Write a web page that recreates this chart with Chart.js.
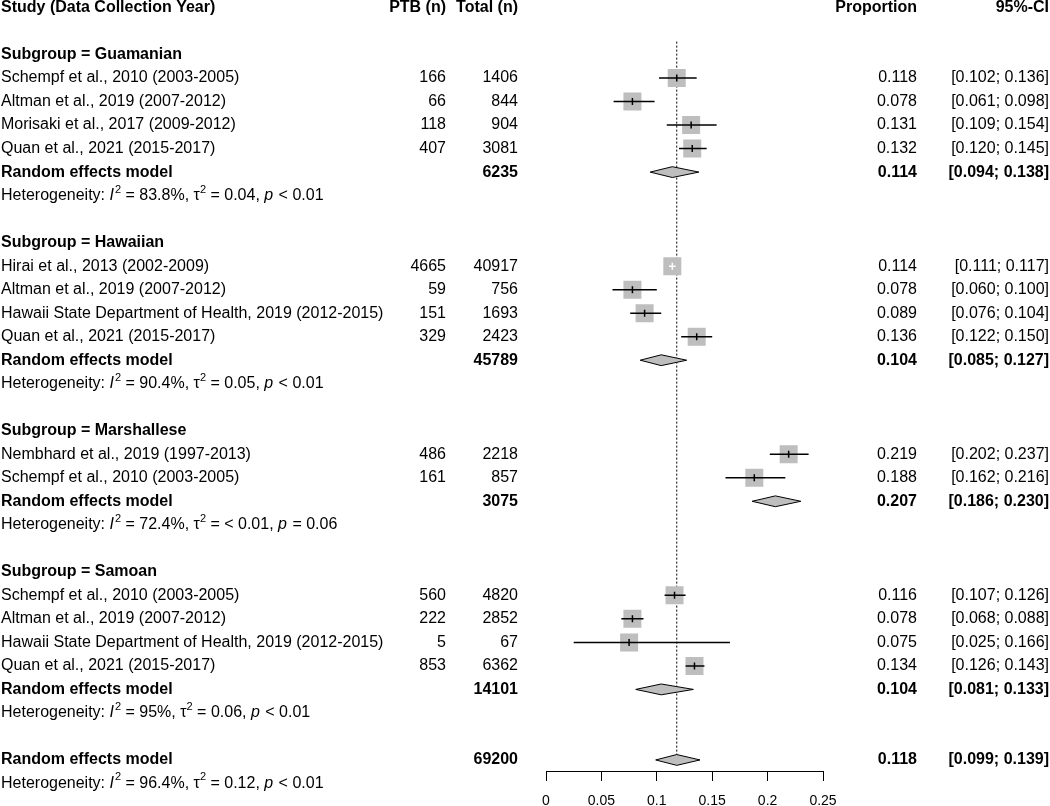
<!DOCTYPE html>
<html>
<head>
<meta charset="utf-8">
<script src="https://cdn.jsdelivr.net/npm/chart.js@4.4.1/dist/chart.umd.min.js"></script>
<style>
  html, body { margin: 0; padding: 0; background: #fff; }
</style>
</head>
<body>
<canvas id="forest" width="1050" height="806"></canvas>
<script>
// ---- DATA ----
const subgroups = ['Guamanian', 'Hawaiian', 'Marshallese', 'Samoan'];
const studies = [
  'Schempf et al., 2010 (2003-2005)',
  'Altman et al., 2019 (2007-2012)',
  'Morisaki et al., 2017 (2009-2012)',
  'Quan et al., 2021 (2015-2017)',
  'Hirai et al., 2013 (2002-2009)',
  'Altman et al., 2019 (2007-2012)',
  'Hawaii State Department of Health, 2019 (2012-2015)',
  'Quan et al., 2021 (2015-2017)',
  'Nembhard et al., 2019 (1997-2013)',
  'Schempf et al., 2010 (2003-2005)',
  'Schempf et al., 2010 (2003-2005)',
  'Altman et al., 2019 (2007-2012)',
  'Hawaii State Department of Health, 2019 (2012-2015)',
  'Quan et al., 2021 (2015-2017)'
];
const studyGroup = [0, 0, 0, 0, 1, 1, 1, 1, 2, 2, 3, 3, 3, 3];
const ptb = [166, 66, 118, 407, 4665, 59, 151, 329, 486, 161, 560, 222, 5, 853];
const total = [1406, 844, 904, 3081, 40917, 756, 1693, 2423, 2218, 857, 4820, 2852, 67, 6362];
const prop = [0.118, 0.078, 0.131, 0.132, 0.114, 0.078, 0.089, 0.136, 0.219, 0.188, 0.116, 0.078, 0.075, 0.134];
const ciLow = [0.102, 0.061, 0.109, 0.120, 0.111, 0.060, 0.076, 0.122, 0.202, 0.162, 0.107, 0.068, 0.025, 0.126];
const ciHigh = [0.136, 0.098, 0.154, 0.145, 0.117, 0.100, 0.104, 0.150, 0.237, 0.216, 0.126, 0.088, 0.166, 0.143];

const subTotal = [6235, 45789, 3075, 14101];
const subProp = [0.114, 0.104, 0.207, 0.104];
const subLow = [0.094, 0.085, 0.186, 0.081];
const subHigh = [0.138, 0.127, 0.230, 0.133];
const hetI2 = ['83.8%', '90.4%', '72.4%', '95%'];
const hetTau2 = ['0.04', '0.05', '< 0.01', '0.06'];
const hetP = ['< 0.01', '< 0.01', '= 0.06', '< 0.01'];

const overallTotal = 69200;
const overallProp = 0.118;
const overallLow = 0.099;
const overallHigh = 0.139;
const overallHet = ['96.4%', '0.12', '< 0.01'];

const tickValues = [0, 0.05, 0.1, 0.15, 0.2, 0.25];
const tickLabels = ['0', '0.05', '0.1', '0.15', '0.2', '0.25'];

// ---- LAYOUT (row numbers, one per text line) ----
const FONT = '"Liberation Sans", Arial, sans-serif';
const SQUARE_SIDE = 18;
const DIAMOND_H = 0.23;

const studyRow = [];
const subRow = [];
const textRows = [];
let r = 2;
subgroups.forEach((g, gi) => {
  textRows.push({ row: r++, kind: 'group', label: 'Subgroup = ' + g });
  studies.forEach((s, i) => {
    if (studyGroup[i] === gi) {
      studyRow[i] = r;
      textRows.push({ row: r++, kind: 'study', i: i });
    }
  });
  subRow[gi] = r;
  textRows.push({ row: r++, kind: 'model', n: subTotal[gi], est: subProp[gi], lo: subLow[gi], hi: subHigh[gi] });
  textRows.push({ row: r++, kind: 'het', het: [hetI2[gi], hetTau2[gi], hetP[gi]] });
  r++;
});
const overallRow = r;
textRows.push({ row: r++, kind: 'model', n: overallTotal, est: overallProp, lo: overallLow, hi: overallHigh });
textRows.push({ row: r++, kind: 'het', het: overallHet });

// CI drawn white when it sits inside the square
function insideSquare(chart, i) {
  const xs = chart.scales.x;
  const c = xs.getPixelForValue(prop[i]);
  const half = SQUARE_SIDE / 2;
  return xs.getPixelForValue(ciLow[i]) >= c - half && xs.getPixelForValue(ciHigh[i]) <= c + half;
}

function diamond(est, lo, hi, row) {
  return [
    { x: lo, y: row }, { x: est, y: row - DIAMOND_H },
    { x: hi, y: row }, { x: est, y: row + DIAMOND_H }, { x: lo, y: row }
  ];
}

const datasets = [];

// dotted reference line at the overall estimate
datasets.push({
  type: 'line',
  data: [{ x: overallProp, y: 1.45 }, { x: overallProp, y: overallRow - DIAMOND_H }],
  borderColor: '#000', borderWidth: 1, borderDash: [2, 2],
  pointRadius: 0, fill: false, order: 10
});

// squares
datasets.push({
  type: 'scatter',
  data: prop.map((p, i) => ({ x: p, y: studyRow[i] })),
  pointStyle: 'rect', pointRadius: SQUARE_SIDE / Math.SQRT2,
  backgroundColor: '#bebebe', borderWidth: 0, order: 5
});

// diamonds
subgroups.forEach((g, gi) => {
  datasets.push({
    type: 'line',
    data: diamond(subProp[gi], subLow[gi], subHigh[gi], subRow[gi]),
    borderColor: '#000', borderWidth: 1, backgroundColor: '#bebebe',
    fill: 'shape', pointRadius: 0, order: 5
  });
});
datasets.push({
  type: 'line',
  data: diamond(overallProp, overallLow, overallHigh, overallRow),
  borderColor: '#000', borderWidth: 1, backgroundColor: '#bebebe',
  fill: 'shape', pointRadius: 0, order: 5
});

// CI lines
prop.forEach((p, i) => {
  datasets.push({
    type: 'line',
    data: [{ x: ciLow[i], y: studyRow[i] }, { x: ciHigh[i], y: studyRow[i] }],
    borderColor: (ctx) => insideSquare(ctx.chart, i) ? '#ffffff' : '#000000',
    borderWidth: 1.5, pointRadius: 0, fill: false, order: 2
  });
});

// point estimate ticks
datasets.push({
  type: 'scatter',
  data: prop.map((p, i) => ({ x: p, y: studyRow[i] })),
  pointStyle: 'line', rotation: 90, pointRadius: 3.5,
  borderWidth: 1.5,
  borderColor: (ctx) => insideSquare(ctx.chart, ctx.dataIndex) ? '#ffffff' : '#000000',
  order: 1
});

// ---- TEXT COLUMNS ----
const COL = { study: 1, ptb: 446, total: 518, prop: 917, ci: 1049 };

function setFont(ctx, size, bold, italic) {
  ctx.font = (italic ? 'italic ' : '') + (bold ? 'bold ' : '') + size + 'px ' + FONT;
}

function put(ctx, txt, x, y, align, bold) {
  setFont(ctx, 16, bold, false);
  ctx.textAlign = align;
  ctx.fillText(txt, x, y);
}

function ciText(lo, hi) {
  return '[' + lo.toFixed(3) + '; ' + hi.toFixed(3) + ']';
}

function drawHet(ctx, het, x, y) {
  const parts = [
    ['Heterogeneity: ', 0], ['I', 1], ['2', 2], [' = ' + het[0] + ', ', 0],
    ['\u03c4', 0], ['2', 2], [' = ' + het[1] + ', ', 0], ['p', 1], [' ' + het[2], 0]
  ];
  ctx.textAlign = 'left';
  parts.forEach(([t, k]) => {
    if (k === 2) {
      setFont(ctx, 11, false, false);
      ctx.fillText(t, x, y - 6);
    } else {
      setFont(ctx, 16, false, k === 1);
      ctx.fillText(t, x, y);
    }
    x += ctx.measureText(t).width + (k === 1 ? 1 : 0);
  });
}

const textPlugin = {
  id: 'forestText',
  afterDraw(chart) {
    const ctx = chart.ctx;
    const ys = chart.scales.y;
    ctx.save();
    ctx.fillStyle = '#000';
    ctx.textBaseline = 'middle';
    const y0 = ys.getPixelForValue(0);
    put(ctx, 'Study (Data Collection Year)', COL.study, y0, 'left', true);
    put(ctx, 'PTB (n)', COL.ptb, y0, 'right', true);
    put(ctx, 'Total (n)', COL.total, y0, 'right', true);
    put(ctx, 'Proportion', COL.prop, y0, 'right', true);
    put(ctx, '95%-CI', COL.ci, y0, 'right', true);

    textRows.forEach(t => {
      const y = ys.getPixelForValue(t.row);
      if (t.kind === 'group') {
        put(ctx, t.label, COL.study, y, 'left', true);
      } else if (t.kind === 'study') {
        const i = t.i;
        put(ctx, studies[i], COL.study, y, 'left', false);
        put(ctx, String(ptb[i]), COL.ptb, y, 'right', false);
        put(ctx, String(total[i]), COL.total, y, 'right', false);
        put(ctx, prop[i].toFixed(3), COL.prop, y, 'right', false);
        put(ctx, ciText(ciLow[i], ciHigh[i]), COL.ci, y, 'right', false);
      } else if (t.kind === 'model') {
        put(ctx, 'Random effects model', COL.study, y, 'left', true);
        put(ctx, String(t.n), COL.total, y, 'right', true);
        put(ctx, t.est.toFixed(3), COL.prop, y, 'right', true);
        put(ctx, ciText(t.lo, t.hi), COL.ci, y, 'right', true);
      } else if (t.kind === 'het') {
        drawHet(ctx, t.het, COL.study, y);
      }
    });
    ctx.restore();
  }
};

new Chart(document.getElementById('forest'), {
  type: 'scatter',
  data: { datasets: datasets },
  options: {
    responsive: false,
    devicePixelRatio: 1,
    animation: false,
    layout: { autoPadding: false, padding: { left: 546, right: 227, top: 7.5, bottom: 0 } },
    plugins: { legend: { display: false }, tooltip: { enabled: false } },
    scales: {
      x: {
        type: 'linear', min: 0, max: 0.25,
        afterBuildTicks: (s) => { s.ticks = tickValues.map(v => ({ value: v })); },
        afterFit: (s) => { s.height = 35; },
        grid: { drawOnChartArea: false, drawTicks: true, tickLength: 10, color: '#000', lineWidth: 1 },
        border: { display: true, color: '#000', width: 1 },
        ticks: {
          padding: 12, color: '#000', autoSkip: false, maxRotation: 0,
          font: { family: FONT, size: 14 },
          callback: (v, i) => tickLabels[i]
        }
      },
      y: { display: false, type: 'linear', min: 0, max: 32.47, reverse: true }
    }
  },
  plugins: [textPlugin]
});
</script>
</body>
</html>
